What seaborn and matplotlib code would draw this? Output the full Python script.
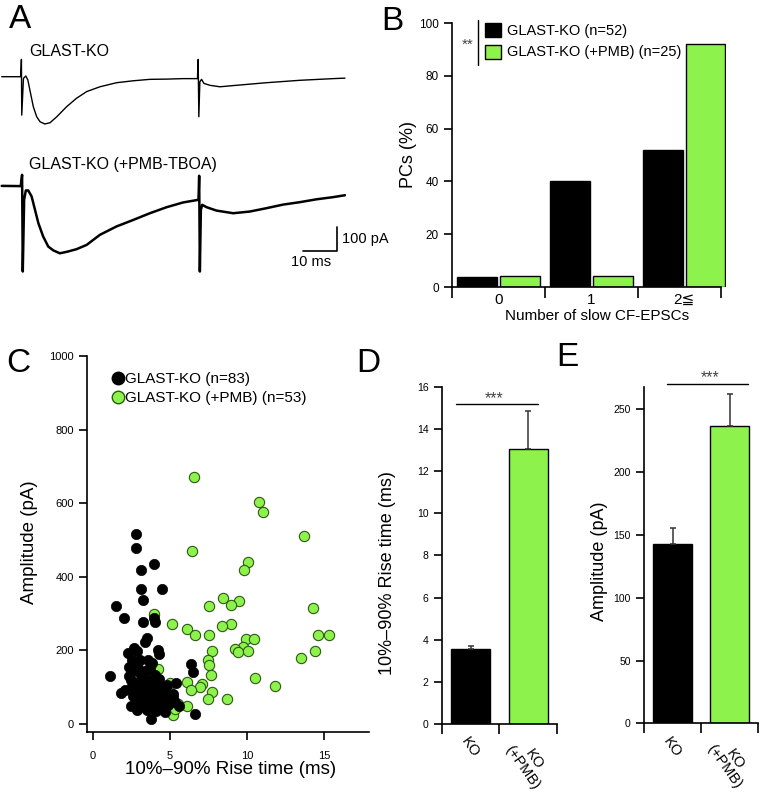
import matplotlib
matplotlib.use('Agg')
import matplotlib.pyplot as plt
import pandas as pd
import seaborn as sns
from matplotlib.lines import Line2D
from matplotlib.patches import Patch

# ---------------- data ----------------
# Panel A: example traces (time in ms, current in pA)
trace_ko_t = [0.5, 6.1, 6.3, 6.4, 6.9, 7.6, 8.2, 8.8, 9.8, 10.8, 11.8, 13.2, 14.7, 16.7,
              19.6, 22.5, 25.5, 29.4, 34.3, 39.2, 44.1, 49.0, 53.9, 58.1, 58.3, 58.5,
              58.8, 59.3, 60.0, 61.8, 64.7, 68.6, 78.4, 88.2, 98.0, 101.5]
trace_ko_i = [0, 0, 72, -160, -7, 3, -14, -56, -125, -167, -188, -197, -192, -167,
              -125, -90, -62, -42, -25, -17, -11, -10, -8, -8, 72, -167,
              -21, -11, -28, -36, -42, -37, -25, -15, -8, -6]
trace_pmb_t = [0.5, 6.1, 6.5, 6.7, 7.1, 7.6, 8.3, 9.3, 10.3, 11.3, 12.7, 14.2, 15.7, 17.6,
               19.6, 22.5, 25.5, 29.4, 34.3, 39.2, 44.1, 49.0, 53.9, 58.4, 58.6, 58.8,
               59.1, 59.5, 60.8, 63.7, 68.6, 73.5, 78.4, 83.3, 88.2, 93.1, 98.0, 101.5]
trace_pmb_i = [0, -1, 46, -357, -58, -19, -19, -44, -100, -156, -211, -253, -269, -281,
               -275, -264, -246, -204, -169, -142, -114, -89, -69, -58, 42, -357,
               -100, -79, -89, -103, -114, -107, -93, -78, -68, -56, -47, -39]

# Panel B: number of slow CF-EPSCs
n_slow = ['0', '1', '2≦']
pct_ko = [3.8, 40.0, 52.0]
pct_pmb = [4.0, 4.0, 92.0]
legend_b = ['GLAST-KO (n=52)', 'GLAST-KO (+PMB) (n=25)']

# Panel C: rise time vs amplitude
ko_rise = [2.78, 2.78, 3.12, 3.95, 4.47, 3.12, 3.21, 1.47, 1.99, 3.21, 3.95, 4.03, 3.51, 3.34,
           4.21, 4.25, 2.25, 2.65, 2.86, 2.51, 3.03, 3.56, 2.60, 2.90, 2.30, 3.30, 3.69, 3.99,
           1.08, 2.43, 2.82, 3.47, 4.12, 4.30, 3.03, 3.56, 3.90, 4.77, 5.38, 6.33, 6.46, 2.08,
           1.78, 2.86, 3.43, 4.12, 4.73, 5.20, 3.30, 3.82, 4.29, 4.60, 4.88, 5.34, 5.60, 2.47,
           2.99, 3.47, 3.73, 4.08, 4.69, 6.62, 4.99, 3.12, 2.69, 3.25, 3.64, 3.82, 2.95, 2.60,
           3.51, 3.82, 2.34, 3.38, 4.21, 4.51, 5.20, 2.82, 3.90, 3.16, 2.51, 3.60, 4.40]
ko_amp = [516, 479, 417, 435, 366, 366, 336, 321, 287, 276, 288, 276, 233, 222,
          202, 191, 193, 206, 199, 175, 175, 173, 143, 152, 131, 138, 149, 134,
          129, 120, 111, 120, 116, 122, 102, 102, 91, 107, 111, 164, 140, 93,
          84, 80, 80, 75, 86, 82, 62, 59, 57, 43, 52, 59, 48, 50,
          48, 39, 14, 34, 32, 28, 66, 134, 93, 95, 111, 75, 66, 75,
          147, 166, 156, 50, 102, 68, 75, 39, 48, 116, 104, 90, 85]
pmb_rise = [6.57, 10.75, 11.06, 13.70, 6.42, 10.06, 9.80, 8.45, 9.50, 8.93, 7.54, 14.30, 3.95,
            5.14, 8.93, 8.35, 6.07, 6.59, 7.54, 14.63, 15.33, 9.90, 10.45, 9.75, 9.20, 9.40,
            10.06, 7.72, 14.41, 13.48, 7.44, 7.54, 7.63, 10.54, 11.81, 6.07, 7.07, 6.94, 6.35,
            7.72, 7.46, 8.67, 6.11, 5.16, 4.35, 4.60, 5.50, 4.90, 3.90, 5.30, 4.20, 5.00, 3.60]
pmb_amp = [672, 604, 577, 511, 471, 441, 417, 343, 335, 324, 321, 314, 300,
           272, 272, 265, 259, 243, 241, 243, 241, 231, 231, 208, 204, 195,
           197, 197, 199, 179, 173, 159, 134, 124, 102, 113, 109, 100, 93,
           86, 69, 69, 50, 25, 73, 62, 55, 90, 120, 40, 150, 110, 80]

# Panels D/E: mean +/- SEM
groups = ['KO', 'KO\n(+PMB)']
rise_mean = [3.55, 13.05]
rise_sem = [0.15, 1.80]
amp_mean = [143, 237]
amp_sem = [12.8, 25.0]

GREEN = '#8df24b'
BAR_COLORS = ['black', GREEN]

# ---------------- style ----------------
sns.set_style('ticks')
plt.rcParams['font.family'] = ['Liberation Sans', 'DejaVu Sans', 'Noto Sans CJK JP']
plt.rcParams['axes.linewidth'] = 1.2
plt.rcParams['xtick.major.width'] = 1.2
plt.rcParams['ytick.major.width'] = 1.2
plt.rcParams['xtick.color'] = 'black'
plt.rcParams['ytick.color'] = 'black'
plt.rcParams['axes.edgecolor'] = 'black'
plt.rcParams['text.color'] = 'black'
plt.rcParams['axes.labelcolor'] = 'black'

W, H = 762, 794
fig = plt.figure(figsize=(W / 100, H / 100), dpi=100)


def px_rect(l, t, r, b):
    return [l / W, 1 - b / H, (r - l) / W, (b - t) / H]


def ftext(x, y, s, **kw):
    fig.text(x / W, 1 - y / H, s, **kw)


def clean(ax):
    sns.despine(ax=ax)
    ax.tick_params(direction='out')


# panel letters
for letter, (x, y) in zip('ABCDE', [(20, 20), (392, 22), (18, 363), (368, 363), (567, 357)]):
    ftext(x, y, letter, fontsize=24, ha='center', va='center')

# ---------------- A ----------------
axA = fig.add_axes(px_rect(0, 40, 346, 290))
axA.plot(trace_ko_t, trace_ko_i, color='black', lw=1.0)
axA.plot(trace_pmb_t, [v - 455 for v in trace_pmb_i], color='black', lw=1.8)
axA.plot([89.2, 99.2, 99.2], [-725, -725, -625], color='black', lw=1.2)
axA.text(100.6, -676, '100 pA', fontsize=10.5, va='center', ha='left', clip_on=False)
axA.text(91.5, -742, '10 ms', fontsize=10.5, va='top', ha='center')
axA.set_xlim(0, 101.8)
axA.set_ylim(-889, 153)
axA.axis('off')
ftext(29, 52, 'GLAST-KO', fontsize=11.5, va='center')
ftext(29, 165, 'GLAST-KO (+PMB-TBOA)', fontsize=11.5, va='center')

# ---------------- B ----------------
df_b = pd.DataFrame({'n': n_slow * 2,
                     'pct': pct_ko + pct_pmb,
                     'group': [legend_b[0]] * 3 + [legend_b[1]] * 3})
axB = fig.add_axes(px_rect(452, 23, 726, 287))
sns.barplot(data=df_b, x='n', y='pct', hue='group', palette=BAR_COLORS, saturation=1,
            edgecolor='black', linewidth=1.0, width=0.92, gap=0.07,
            errorbar=None, legend=False, ax=axB)
clean(axB)
axB.set_xlim(-0.5, 2.45)
axB.set_ylim(0, 100)
axB.spines['bottom'].set_bounds(-0.5, 2.4)
axB.set_xticks([-0.5, 0.5, 1.5, 2.4])
axB.set_xticklabels([])
axB.set_xticks([0, 1, 2], minor=True)
axB.set_xticklabels(n_slow, minor=True, fontsize=11)
axB.tick_params(axis='x', which='major', length=8)
axB.tick_params(axis='x', which='minor', length=0, pad=4)
axB.set_yticks(range(0, 101, 20))
axB.tick_params(axis='y', length=6, labelsize=8.5)
axB.set_xlabel('')
axB.set_ylabel('')
ftext(408, 155, 'PCs (%)', fontsize=13, rotation=90, ha='center', va='center')
ftext(597, 316, 'Number of slow CF-EPSCs', fontsize=11, ha='center', va='center')
axB.legend(handles=[Patch(fc='black', ec='black'), Patch(fc=GREEN, ec='black')],
           labels=legend_b, loc='upper left',
           bbox_to_anchor=((485 - 452) / 274, 1.0), frameon=False, fontsize=10.5,
           handlelength=1.1, handleheight=1.1, labelspacing=0.45,
           handletextpad=0.4, borderpad=0, borderaxespad=0)
fig.add_artist(Line2D([478 / W, 478 / W], [1 - 20 / H, 1 - 65 / H], color='black', lw=1))
ftext(468, 45, '**', fontsize=11, color='#444444', ha='center', va='center')

# ---------------- C ----------------
axC = fig.add_axes(px_rect(87, 356, 368.7, 732))
sns.scatterplot(x=pmb_rise, y=pmb_amp, color=GREEN, edgecolor='#2d5a12',
                linewidth=0.8, s=55, ax=axC, zorder=2)
sns.scatterplot(x=ko_rise, y=ko_amp, color='black', edgecolor='black',
                linewidth=0.5, s=55, ax=axC, zorder=3)
clean(axC)
axC.set_xlim(-0.4, 17.9)
axC.set_ylim(-22, 1000)
axC.set_xticks([0, 5, 10, 15])
axC.set_yticks(range(0, 1001, 200))
axC.tick_params(length=6, labelsize=8)
axC.tick_params(axis='x', pad=8)
ftext(29, 542, 'Amplitude (pA)', fontsize=13.5, rotation=90, ha='center', va='center')
ftext(231, 770, '10%–90% Rise time (ms)', fontsize=13.5, ha='center', va='center')
axC.legend(handles=[Line2D([], [], marker='o', ls='', mfc='black', mec='black', ms=9),
                    Line2D([], [], marker='o', ls='', mfc=GREEN, mec='#2d5a12', ms=9)],
           labels=['GLAST-KO (n=83)', 'GLAST-KO (+PMB) (n=53)'],
           loc='upper left', bbox_to_anchor=((113 - 87) / 281.7, 1 - (372 - 356) / 376),
           frameon=False, fontsize=11, handlelength=0.7, handletextpad=0.1,
           labelspacing=0.35, borderpad=0, borderaxespad=0)


# ---------------- D / E ----------------
def bar_panel(rect, means, sems, ylim, yticks, sig_x, sig_y, star_xy):
    ax = fig.add_axes(px_rect(*rect))
    sns.barplot(x=groups, y=means, hue=groups, palette=BAR_COLORS, saturation=1,
                edgecolor='black', linewidth=1.0, width=0.68, errorbar=None,
                legend=False, ax=ax)
    ax.errorbar([0, 1], means, yerr=[[0, 0], sems], fmt='none', ecolor='#333333',
                elinewidth=1.1, capsize=2.5, capthick=1.1, zorder=1)
    clean(ax)
    ax.set_xlim(-0.5, 1.5)
    ax.set_ylim(*ylim)
    ax.set_yticks(yticks)
    ax.tick_params(axis='y', length=6, labelsize=7.5)
    ax.set_xticks([-0.5, 0.5, 1.5])
    ax.set_xticklabels([])
    ax.set_xticks([0, 1], minor=True)
    ax.set_xticklabels(groups, minor=True, rotation=-55, ha='center', va='top',
                       multialignment='center', fontsize=10.5, linespacing=0.95)
    ax.tick_params(axis='x', which='major', length=7)
    ax.tick_params(axis='x', which='minor', length=0, pad=8)
    ax.plot(sig_x, sig_y, color='black', lw=1, clip_on=False)
    ax.text(star_xy[0], star_xy[1], '***', fontsize=11.5, color='#444444',
            ha='center', va='center', clip_on=False)
    return ax


axD = bar_panel((441.7, 386.7, 557, 724), rise_mean, rise_sem, (0, 16), range(0, 17, 2),
                [-0.25, 1.17], [15.18, 15.18], (0.41, 15.45))
ftext(387, 573, '10%–90% Rise time (ms)', fontsize=13, rotation=90, ha='center', va='center')

axE = bar_panel((644, 386.7, 758, 723.3), amp_mean, amp_sem, (0, 268), range(0, 251, 50),
                [-0.1, 1.32], [270, 270], (0.66, 275))
ftext(599, 561, 'Amplitude (pA)', fontsize=13, rotation=90, ha='center', va='center')

fig.savefig('out.png', dpi=100)
